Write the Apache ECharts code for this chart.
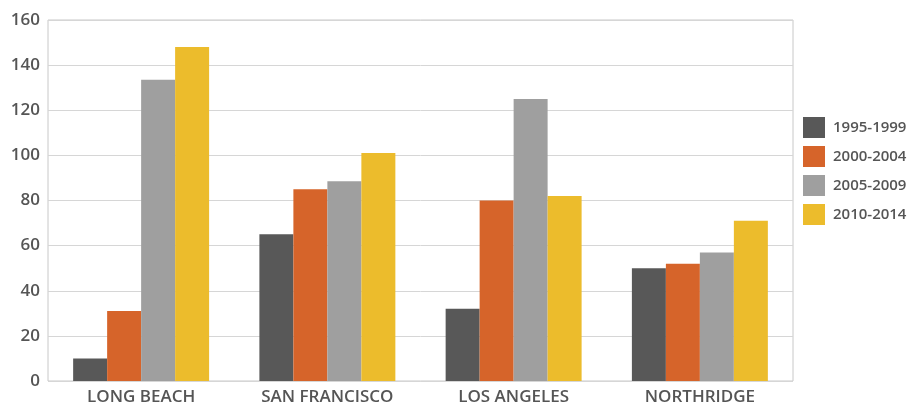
<!DOCTYPE html>
<html>
<head>
<meta charset="utf-8">
<script src="https://cdn.jsdelivr.net/npm/echarts@6/dist/echarts.min.js"></script>
<style>
  html, body { margin: 0; padding: 0; background: #fff; }
  #chart { width: 912px; height: 409px; }
</style>
</head>
<body>
<div id="chart"></div>
<script>
  // 城市
  const cities = ['LONG BEACH', 'SAN FRANCISCO', 'LOS ANGELES', 'NORTHRIDGE'];
  // 各时期的数值
  const periods = ['1995-1999', '2000-2004', '2005-2009', '2010-2014'];
  const v1995 = [10, 65, 32, 50];
  const v2000 = [31, 85, 80, 52];
  const v2005 = [133.5, 88.5, 125, 57];
  const v2010 = [148, 101, 82, 71];
  const colors = ['#585858', '#d6642a', '#9f9f9f', '#ecbc2c'];

  const chart = echarts.init(document.getElementById('chart'));
  const txt = '#555555';
  const font = '"Open Sans", "DejaVu Sans", sans-serif';

  const makeSeries = (name, data) => ({
    name: name,
    type: 'bar',
    data: data,
    barGap: 0,
    barCategoryGap: '27%',
    animation: false
  });

  chart.setOption({
    color: colors,
    grid: {
      left: 48, right: 119, top: 20, bottom: 28,
      show: true,
      borderColor: '#c8c8c8',
      borderWidth: 1
    },
    legend: {
      orient: 'vertical',
      left: 803,
      top: 117,
      padding: 0,
      icon: 'rect',
      itemWidth: 22,
      itemHeight: 21,
      itemGap: 8,
      textStyle: { color: txt, fontSize: 15, fontWeight: 600, fontFamily: font, padding: [0, 0, 0, 3] },
      data: periods
    },
    xAxis: {
      type: 'category',
      data: cities,
      axisLine: { show: false },
      axisTick: { show: false },
      axisLabel: { color: txt, fontSize: 17, fontWeight: 600, fontFamily: font, margin: 8 }
    },
    yAxis: {
      type: 'value',
      min: 0,
      max: 160,
      interval: 20,
      axisLine: { show: false },
      axisTick: { show: false },
      splitLine: { lineStyle: { color: '#d6d6d6' } },
      axisLabel: { color: txt, fontSize: 17, fontWeight: 600, fontFamily: font, margin: 8 }
    },
    series: [
      makeSeries(periods[0], v1995),
      makeSeries(periods[1], v2000),
      makeSeries(periods[2], v2005),
      makeSeries(periods[3], v2010)
    ]
  });
</script>
</body>
</html>
